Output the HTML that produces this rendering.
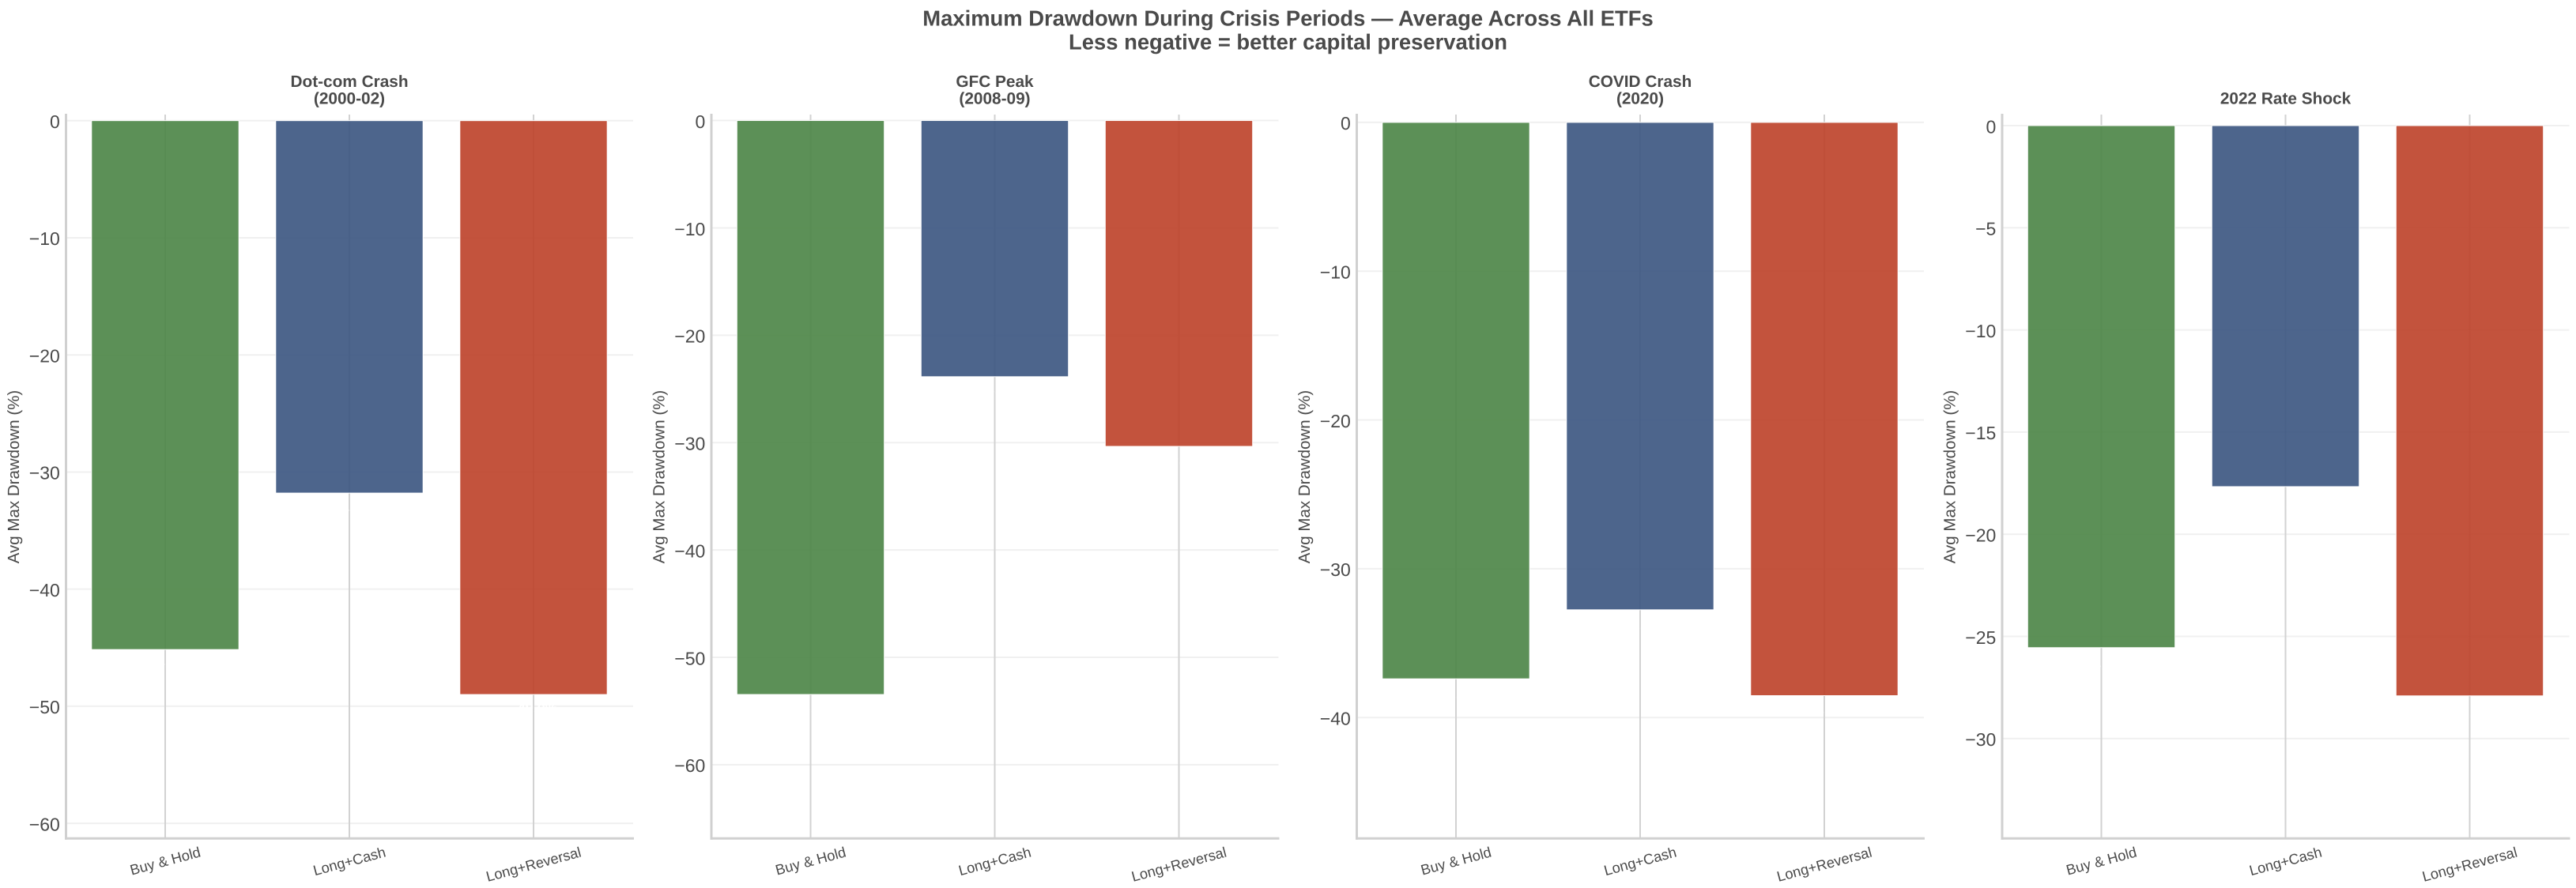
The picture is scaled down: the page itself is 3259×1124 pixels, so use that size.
<!DOCTYPE html>
<html lang="en">
<head>
<meta charset="utf-8">
<title>Maximum Drawdown During Crisis Periods</title>
<style>
html,body{margin:0;padding:0;background:#fff;}
body{width:3259px;height:1124px;overflow:hidden;}
svg{display:block;}
text{font-family:"Liberation Sans",Arial,sans-serif;fill:#4a4a4a;text-rendering:geometricPrecision;}
</style>
</head>
<body>
<svg id="chart" xmlns="http://www.w3.org/2000/svg" width="3259" height="1124" viewBox="0 0 3259 1124">
  <rect x="0" y="0" width="3259" height="1124" fill="#ffffff"/>
  <text x="1629.5" y="32.7" text-anchor="middle" font-size="27.4" font-weight="700">Maximum Drawdown During Crisis Periods — Average Across All ETFs</text>
  <text x="1629.5" y="62.7" text-anchor="middle" font-size="27.4" font-weight="700">Less negative = better capital preservation</text>
</svg>
<script>
const categories = ['Buy & Hold', 'Long+Cash', 'Long+Reversal'];
const crisisTitles = [['Dot-com Crash', '(2000-02)'], ['GFC Peak', '(2008-09)'], ['COVID Crash', '(2020)'], ['2022 Rate Shock']];
const buyHoldValues = [-45.16, -53.46, -37.40, -25.55];
const longCashValues = [-31.80, -23.86, -32.76, -17.67];
const longReversalValues = [-49.00, -30.35, -38.53, -27.91];
const yTicksDotcom = [0, -10, -20, -30, -40, -50, -60];
const yTicksGfc = [0, -10, -20, -30, -40, -50, -60];
const yTicksCovid = [0, -10, -20, -30, -40];
const yTicksRate = [0, -5, -10, -15, -20, -25, -30];
const yDomainMin = [-61.29, -66.87, -48.13, -34.89];
const yDomainMax = [0.587, 0.63, 0.58, 0.58];

const yTickSets = [yTicksDotcom, yTicksGfc, yTicksCovid, yTicksRate];
const seriesValues = [buyHoldValues, longCashValues, longReversalValues];
const seriesColors = ['#4a8445', '#3a547f', '#bc4028'];
const seriesNames = ['buy-hold', 'long-cash', 'long-reversal'];
const panelKeys = ['dotcom', 'gfc', 'covid', 'rate-shock'];

const svg = document.getElementById('chart');
const NS = 'http://www.w3.org/2000/svg';
const PLOT_TOP = 144;
const PLOT_BOTTOM = 1061.3;
const PLOT_WIDTH = 717.5;

function make(tag, attrs, parent) {
  const node = document.createElementNS(NS, tag);
  for (const key in attrs) node.setAttribute(key, attrs[key]);
  parent.appendChild(node);
  return node;
}
function xAxis(left, position) {
  return left + 125.5 + position * 233;
}
function yAxis(panel, value) {
  const t = (yDomainMax[panel] - value) / (yDomainMax[panel] - yDomainMin[panel]);
  return PLOT_TOP + t * (PLOT_BOTTOM - PLOT_TOP);
}
function minusFormat(value) {
  return value < 0 ? '\u2212' + Math.abs(value) : String(value);
}

crisisTitles.forEach(function (titleLines, panel) {
  const left = 83.5 + panel * 816.5;
  const key = panelKeys[panel];
  const group = make('g', {}, svg);
  
  

  yTickSets[panel].forEach(function (tick) {
    const y = yAxis(panel, tick);
    const grid = make('line', {x1: left + 1.5, x2: left + PLOT_WIDTH, y1: y, y2: y, stroke: '#f0f0f0', 'stroke-width': 2}, group);
    
    
    const label = make('text', {x: left - 7.7, y: y + 9.3, 'text-anchor': 'end', 'font-size': 23}, group);
    
    
    label.textContent = minusFormat(tick);
  });

  categories.forEach(function (category, index) {
    const x = xAxis(left, index);
    const vline = make('line', {x1: x, x2: x, y1: PLOT_TOP + 1, y2: PLOT_BOTTOM, stroke: '#d2d2d2', 'stroke-width': 2}, group);
    
    
  });

  categories.forEach(function (category, index) {
    const value = seriesValues[index][panel];
    const x = xAxis(left, index);
    const halfBar = 0.4 * 233;
    const y0 = yAxis(panel, 0);
    const y1 = yAxis(panel, value);
    const bar = make('rect', {x: x - halfBar, y: y0, width: 2 * halfBar, height: y1 - y0, fill: seriesColors[index], 'fill-opacity': 0.9, stroke: '#ffffff', 'stroke-width': 1}, group);
    
    
    const valueLabel = make('text', {x: x, y: yAxis(panel, value - 0.45) + 16.3, 'text-anchor': 'middle', 'font-size': 18, 'font-weight': 700, style: 'fill:#ffffff'}, group);
    
    
    valueLabel.textContent = '\u2212' + Math.abs(value).toFixed(1) + '%';
  });

  const spineLeft = make('line', {x1: left, x2: left, y1: PLOT_TOP, y2: PLOT_BOTTOM + 1.5, stroke: '#d0d0d0', 'stroke-width': 3}, group);
  
  
  const spineBottom = make('line', {x1: left - 1.5, x2: left + PLOT_WIDTH + 1, y1: PLOT_BOTTOM, y2: PLOT_BOTTOM, stroke: '#d0d0d0', 'stroke-width': 3}, group);
  
  

  categories.forEach(function (category, index) {
    const x = xAxis(left, index);
    const label = make('text', {x: x, y: 0, 'text-anchor': 'middle', dy: '.35em', 'font-size': 18.3}, group);
    
    
    label.textContent = category;
    const w = label.getComputedTextLength();
    const rad = 15 * Math.PI / 180;
    const yc = 1069 + (w * Math.sin(rad) + 18.3 * Math.cos(rad)) / 2;
    label.setAttribute('y', yc);
    label.setAttribute('transform', 'rotate(-15 ' + x + ' ' + yc + ')');
  });

  const titleX = left + 358.5;
  titleLines.forEach(function (line, i) {
    const baseline = 131.7 - (titleLines.length - 1 - i) * 21.7;
    const title = make('text', {x: titleX, y: baseline, 'text-anchor': 'middle', 'font-size': 20.8, 'font-weight': 700}, group);
    
    
    title.textContent = line;
  });

  const ylabelX = left - 66.5;
  const ylabel = make('text', {x: ylabelX, y: 603.5, dy: '.35em', 'text-anchor': 'middle', 'font-size': 20.5, transform: 'rotate(-90 ' + ylabelX + ' 603.5)'}, group);
  
  
  ylabel.textContent = 'Avg Max Drawdown (%)';
});
</script>
</body>
</html>
